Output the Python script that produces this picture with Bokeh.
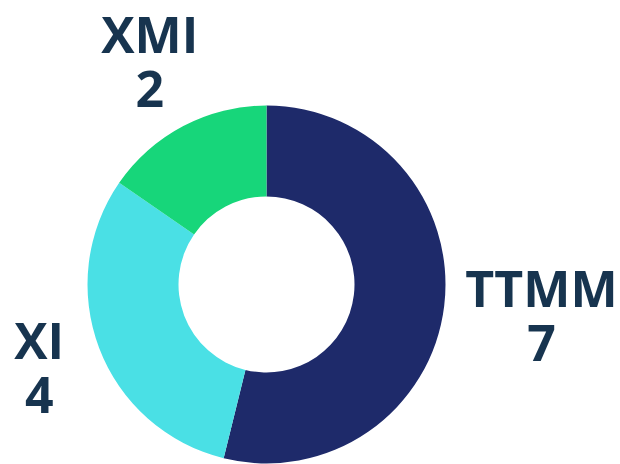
import math
from bokeh.plotting import figure
from bokeh.models import Range1d, ColumnDataSource
from bokeh.core.properties import value
from bokeh.embed import file_html
from bokeh.resources import INLINE

categories = ["TTMM", "XI", "XMI"]
counts = [7, 4, 2]
colors = ["#1e2a6a", "#4ae0e5", "#17d67a"]

# layout (image pixel space, y up)
W, H = 620, 464
cx, cy = 266, H - 284
R_out, R_in = 179, 88
label_dist = [278, 242, 249]
font = value("Open Sans")
text_color = "#17344f"

total = sum(counts)
starts, ends, mids = [], [], []
acc = 0
for c in counts:
    a0 = math.pi / 2 - acc / total * 2 * math.pi
    acc += c
    a1 = math.pi / 2 - acc / total * 2 * math.pi
    starts.append(a0)
    ends.append(a1)
    mids.append((a0 + a1) / 2)

lx = [cx + d * math.cos(m) for d, m in zip(label_dist, mids)]
ly = [cy + d * math.sin(m) for d, m in zip(label_dist, mids)]

src = ColumnDataSource(dict(
    cat=categories, val=[str(v) for v in counts], color=colors,
    start=starts, end=ends, x=[cx] * 3, y=[cy] * 3, lx=lx, ly=ly,
))

p = figure(width=W, height=H, output_backend="svg", toolbar_location=None,
           x_range=Range1d(0, W), y_range=Range1d(0, H),
           min_border=0, outline_line_color=None)
p.axis.visible = False
p.grid.visible = False
p.background_fill_color = "white"
p.border_fill_color = "white"

p.annular_wedge(x="x", y="y", inner_radius=R_in, outer_radius=R_out,
                inner_radius_units="screen", outer_radius_units="screen",
                start_angle="start", end_angle="end", direction="clock",
                fill_color="color", line_color="white", line_width=0, source=src)

p.text(x="lx", y="ly", text="cat", source=src, text_font=font,
       text_font_style="bold", text_font_size="50px", text_color=text_color,
       text_align="center", text_baseline="alphabetic", y_offset=-30, x_offset=-1)
p.text(x="lx", y="ly", text="val", source=src, text_font=font,
       text_font_style="bold", text_font_size="50px", text_color=text_color,
       text_align="center", text_baseline="alphabetic", y_offset=25, x_offset=-1)

open("out.html", "w").write(file_html(p, INLINE))
